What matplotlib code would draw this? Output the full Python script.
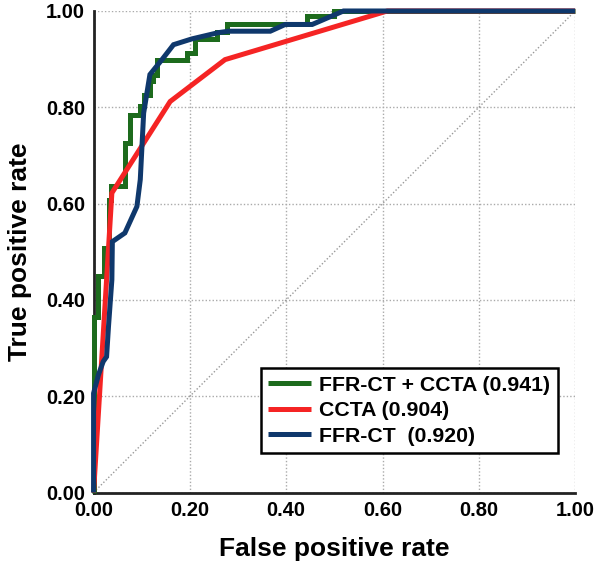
import matplotlib
matplotlib.use("Agg")
import matplotlib.pyplot as plt

plt.rcParams['font.family'] = ['Liberation Sans', 'DejaVu Sans']
plt.rcParams['font.weight'] = 'bold'

# ROC curve vertices
green_fpr = [0, 0, 0.010, 0.010, 0.022, 0.022, 0.031, 0.031, 0.036, 0.036, 0.066, 0.066,
             0.076, 0.076, 0.097, 0.097, 0.104, 0.104, 0.117, 0.117, 0.124, 0.124, 0.131, 0.131,
             0.194, 0.194, 0.211, 0.211, 0.256, 0.256, 0.277, 0.277, 0.443, 0.443, 0.499, 0.499, 1.0]
green_tpr = [0, 0.365, 0.365, 0.449, 0.449, 0.508, 0.508, 0.608, 0.608, 0.636, 0.636, 0.726,
             0.726, 0.785, 0.785, 0.802, 0.802, 0.826, 0.826, 0.854, 0.854, 0.868, 0.868, 0.899,
             0.899, 0.913, 0.913, 0.941, 0.941, 0.957, 0.957, 0.972, 0.972, 0.989, 0.989, 1.0, 1.0]

red_fpr = [0, 0.038, 0.159, 0.273, 0.610, 1.0]
red_tpr = [0, 0.622, 0.812, 0.899, 1.0, 1.0]

blue_fpr = [0, 0, 0.010, 0.020, 0.027, 0.031, 0.038, 0.039, 0.065, 0.090, 0.097, 0.104, 0.117,
            0.142, 0.166, 0.204, 0.259, 0.280, 0.367, 0.398, 0.454, 0.519, 1.0]
blue_tpr = [0, 0.206, 0.244, 0.272, 0.282, 0.345, 0.442, 0.521, 0.539, 0.594, 0.650, 0.788, 0.868,
            0.899, 0.930, 0.942, 0.955, 0.958, 0.958, 0.972, 0.972, 1.0, 1.0]

labels = ['FFR-CT + CCTA (0.941)', 'CCTA (0.904)', 'FFR-CT  (0.920)']
colors = ['#1d6b1d', '#f52424', '#0f386c']
ticks = [0.0, 0.2, 0.4, 0.6, 0.8, 1.0]

fig = plt.figure(figsize=(5.96, 5.69), dpi=100)
ax = fig.add_axes([0.157, 0.1344, 0.808, 0.8463])

ax.plot([0, 1], [0, 1], color='#999999', lw=1, ls=(0, (1, 1.5)), zorder=1)
for fx, ty, lab, c in zip([green_fpr, red_fpr, blue_fpr], [green_tpr, red_tpr, blue_tpr], labels, colors):
    ax.plot(fx, ty, color=c, lw=3.6, label=lab, clip_on=False, zorder=3,
            solid_joinstyle='miter', solid_capstyle='butt')

ax.set_xlim(0, 1)
ax.set_ylim(0, 1)
ax.set_xticks(ticks)
ax.set_yticks(ticks)
ax.set_xticklabels(['%.2f' % t for t in ticks], fontsize=14.5, fontweight='bold')
ax.set_yticklabels(['%.2f' % t for t in ticks], fontsize=14.5, fontweight='bold')
ax.tick_params(length=0, pad=6)
ax.grid(True, color='#aaaaaa', lw=1, ls=(0, (1, 1.5)))
ax.set_axisbelow(True)
for s in ['top', 'right']:
    ax.spines[s].set_visible(False)
for s in ['left', 'bottom']:
    ax.spines[s].set_linewidth(2)
    ax.spines[s].set_color('#222222')

ax.set_xlabel('False positive rate', fontsize=19, fontweight='bold', labelpad=12)
ax.set_ylabel('True positive rate', fontsize=19, fontweight='bold', labelpad=10)

leg = ax.legend(loc='lower right', bbox_to_anchor=(0.964, 0.082), fontsize=15.3,
                fancybox=False, framealpha=1, edgecolor='black', handlelength=2.0,
                handletextpad=0.4, labelspacing=0.3, borderpad=0.35, borderaxespad=0)
leg.get_frame().set_linewidth(1.8)
for t in leg.get_texts():
    t.set_fontweight('bold')

fig.savefig('out.png', dpi=100)
